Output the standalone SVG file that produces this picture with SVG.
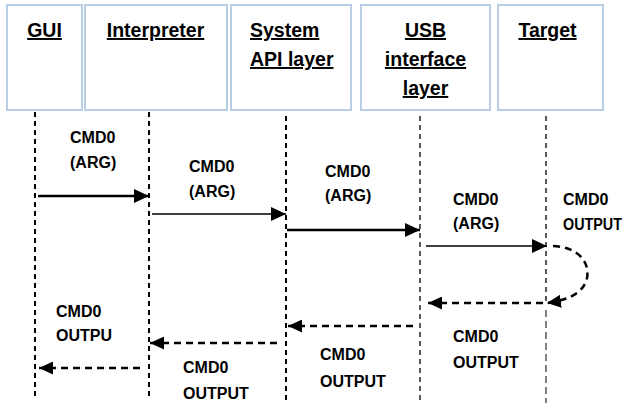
<svg xmlns="http://www.w3.org/2000/svg" width="630" height="403" viewBox="0 0 630 403">
<style>
.box{fill:#fff;stroke:#b9cde5;stroke-width:2}
.title{font-family:"Liberation Sans",Arial,sans-serif;font-weight:bold;font-size:19.5px;fill:#000;text-decoration:underline}
.lbl{font-family:"Liberation Sans",Arial,sans-serif;font-weight:bold;font-size:16px;fill:#000}
.life{stroke:#000;stroke-width:2;stroke-dasharray:5 4;fill:none}
.lifet{stroke:#000;stroke-width:1.3;stroke-dasharray:5 4;fill:none}
.call{stroke:#000;stroke-width:2.5;fill:none}
.callt{stroke:#000;stroke-width:1.5;fill:none}
.ret{stroke:#000;stroke-width:2.5;stroke-dasharray:7 5;fill:none}
</style>
<defs>
<marker id="ah" markerUnits="userSpaceOnUse" markerWidth="16" markerHeight="14" refX="15" refY="7" orient="auto">
<path d="M0,0 L15,7 L0,14 Z" fill="#000"/>
</marker>
<marker id="ahr" markerUnits="userSpaceOnUse" markerWidth="15" markerHeight="13" refX="14" refY="6.5" orient="auto">
<path d="M0,0 L14,6.5 L0,13 Z" fill="#000"/>
</marker>
</defs>

<g id="gui">
<rect class="box" x="7" y="5" width="75" height="105"/>
<text class="title" x="44.5" y="37" text-anchor="middle">GUI</text>
</g>
<g id="interpreter">
<rect class="box" x="85" y="5" width="142" height="105"/>
<text class="title" x="155.5" y="37" text-anchor="middle">Interpreter</text>
</g>
<g id="system">
<rect class="box" x="231" y="5" width="120" height="105"/>
<text class="title" x="250" y="37">System</text>
<text class="title" x="250" y="66">API layer</text>
</g>
<g id="usb">
<rect class="box" x="361" y="5" width="129" height="105"/>
<text class="title" x="425.5" y="37" text-anchor="middle">USB</text>
<text class="title" x="425.5" y="66" text-anchor="middle">interface</text>
<text class="title" x="425.5" y="95" text-anchor="middle">layer</text>
</g>
<g id="target">
<rect class="box" x="498" y="5" width="105" height="105"/>
<text class="title" x="547.5" y="37" text-anchor="middle">Target</text>
</g>

<g id="lifelines">
<line class="life" x1="35" y1="112" x2="35" y2="400"/>
<line class="life" x1="149" y1="112" x2="149" y2="400"/>
<line class="life" x1="286" y1="116" x2="286" y2="403"/>
<line class="lifet" x1="420" y1="116" x2="420" y2="403"/>
<line class="lifet" x1="546" y1="116" x2="546" y2="303"/>
<line stroke="#000" stroke-width="1" stroke-dasharray="7 4" x1="546" y1="310" x2="546" y2="403"/>
</g>

<g id="connectors">
<line class="call" x1="38" y1="196" x2="149" y2="196" marker-end="url(#ah)"/>
<line class="callt" x1="152" y1="214" x2="286" y2="214" marker-end="url(#ah)"/>
<line class="call" x1="287" y1="230" x2="420" y2="230" marker-end="url(#ah)"/>
<line class="callt" x1="426" y1="246" x2="547" y2="246" marker-end="url(#ah)"/>
<path class="ret" d="M553,246 C578,247 590,262 587,278 C584,292 570,300 547,303" marker-end="url(#ahr)"/>
<line class="ret" x1="543" y1="303" x2="428" y2="303" marker-end="url(#ahr)"/>
<line class="ret" x1="413" y1="326" x2="288" y2="326" marker-end="url(#ahr)"/>
<line class="ret" x1="277" y1="343" x2="150" y2="343" marker-end="url(#ahr)"/>
<line class="ret" x1="140" y1="368" x2="39" y2="368" marker-end="url(#ahr)"/>
</g>

<g id="labels">
<text class="lbl" x="70" y="143">CMD0</text>
<text class="lbl" x="70" y="168">(ARG)</text>
<text class="lbl" x="189" y="172">CMD0</text>
<text class="lbl" x="189" y="197">(ARG)</text>
<text class="lbl" x="325" y="177">CMD0</text>
<text class="lbl" x="325" y="201">(ARG)</text>
<text class="lbl" x="453" y="205">CMD0</text>
<text class="lbl" x="453" y="229">(ARG)</text>
<text class="lbl" x="563" y="205">CMD0</text>
<text class="lbl" x="563" y="230" textLength="59" lengthAdjust="spacingAndGlyphs">OUTPUT</text>
<text class="lbl" x="56" y="317">CMD0</text>
<text class="lbl" x="56" y="341">OUTPU</text>
<text class="lbl" x="183" y="373">CMD0</text>
<text class="lbl" x="183" y="399">OUTPUT</text>
<text class="lbl" x="320" y="360">CMD0</text>
<text class="lbl" x="320" y="387">OUTPUT</text>
<text class="lbl" x="453" y="342">CMD0</text>
<text class="lbl" x="453" y="368">OUTPUT</text>
</g>
</svg>
